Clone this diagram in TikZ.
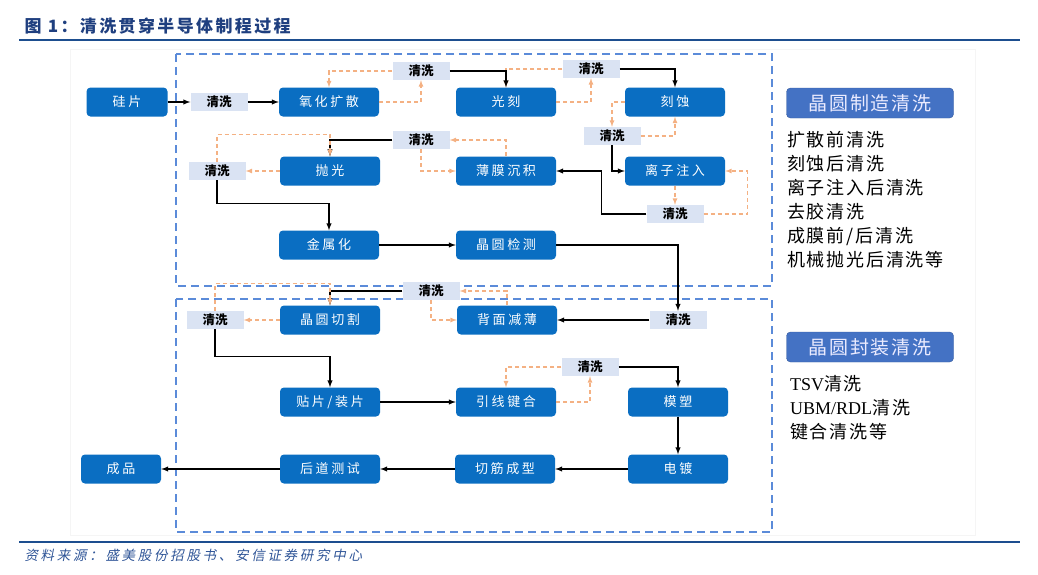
\documentclass[tikz,border=0pt]{standalone}
\usepackage{fontspec}
\setmainfont{Noto Sans CJK SC}
\newfontfamily\latinserif{Liberation Serif}
\newfontfamily\srcfont[FakeSlant=0.2,LetterSpace=20]{Noto Sans CJK SC}
\newfontfamily\boxfont[LetterSpace=20]{Noto Sans CJK SC}
\newfontfamily\titlefont[LetterSpace=14]{Noto Sans CJK SC}
\newfontfamily\notefont[LetterSpace=10]{Noto Sans CJK SC}

\definecolor{procblue}{HTML}{0A6EC2}
\definecolor{washbg}{HTML}{DAE3F3}
\definecolor{backorange}{HTML}{F4B183}
\definecolor{regionblue}{HTML}{5B8BD9}
\definecolor{titleblue}{HTML}{1F3F7F}
\definecolor{rulerblue}{HTML}{1D4E8F}
\definecolor{panelblue}{HTML}{4472C4}
\definecolor{srcblue}{HTML}{2F5597}

\begin{document}
\begin{tikzpicture}[x=1pt,y=-1pt,
    proc/.style={fill=procblue, text=white, rounded corners=4pt, minimum width=100, minimum height=29, inner sep=0pt, font=\boxfont\fontsize{13}{15}\selectfont},
    wash/.style={fill=washbg, text=black, minimum width=57, minimum height=18, inner sep=0pt, font=\bfseries\fontsize{12.5}{14}\selectfont},
    flow/.style={black, line width=1.4pt, -latex},
    back/.style={backorange, line width=1.2pt, dash pattern=on 4pt off 3pt, -latex},
    region/.style={regionblue, line width=1.8pt, dash pattern=on 8pt off 5pt},
    panel/.style={fill=panelblue, draw=panelblue!80!black, text=white!92!blue, rounded corners=4pt, minimum width=167, minimum height=30, inner sep=0pt, font=\notefont\fontsize{19}{21}\selectfont},
    listtext/.style={align=left, inner sep=0pt, font=\notefont\fontsize{18}{24}\selectfont}]
                \useasboundingbox (0,0) rectangle (1038,574);
                % title and rules
                \node[anchor=west, text=titleblue, font=\titlefont\bfseries\fontsize{17}{19}\selectfont] (title) at (21,26) {图 1：清洗贯穿半导体制程过程};
                \draw[rulerblue, line width=2pt] (19,40) -- (1020,40);
                \draw[rulerblue, line width=2pt] (19,542) -- (1020,542);
                \node[anchor=west, text=srcblue, font=\srcfont\fontsize{13.5}{15}\selectfont] (source) at (21,555) {资料来源：盛美股份招股书、安信证券研究中心};
                \draw[black!4] (70,49) rectangle (975,535);
                % the two stages
                \draw[region] (176,54) rectangle (772,286);
                \draw[region] (176,299) rectangle (772,532);
                % wafer fabrication
                \node[proc, minimum width=81] (wafer) at (127,102) {硅片};
                \node[wash] (w1) at (219,102) {清洗};
                \node[proc] (oxid) at (329,102) {氧化扩散};
                \node[wash] (w2) at (421,71) {清洗};
                \node[proc] (litho) at (506,102) {光刻};
                \node[wash] (w3) at (591,69) {清洗};
                \node[proc] (etch) at (675,102) {刻蚀};
                \node[wash] (w4) at (612,136) {清洗};
                \node[proc] (ion) at (675,171) {离子注入};
                \node[wash] (w5) at (675,214) {清洗};
                \node[proc] (depo) at (506,171) {薄膜沉积};
                \node[wash] (w6) at (421,140) {清洗};
                \node[proc] (polish) at (330,171) {抛光};
                \node[wash] (w7) at (217,171) {清洗};
                \node[proc] (metal) at (329,245) {金属化};
                \node[proc] (insp) at (506,245) {晶圆检测};
                % packaging
                \node[wash] (w10) at (678,320) {清洗};
                \node[proc] (thin) at (507,320) {背面减薄};
                \node[wash] (w8) at (431,291) {清洗};
                \node[proc] (dicing) at (330,320) {晶圆切割};
                \node[wash] (w9) at (215,320) {清洗};
                \node[proc] (attach) at (330,402) {贴片/装片};
                \node[proc] (bond) at (506,402) {引线键合};
                \node[wash] (w11) at (590,367) {清洗};
                \node[proc] (mold) at (678,402) {模塑};
                \node[proc] (plate) at (678,469) {电镀};
                \node[proc] (trim) at (505,469) {切筋成型};
                \node[proc] (test) at (330,469) {后道测试};
                \node[proc, minimum width=80] (final) at (121,469) {成品};
                % cleaning loops
                \draw[back] (oxid) -| (w2);
                \draw[back] (w2) -| (oxid);
                \draw[back] (litho) -| (w3);
                \draw[back] (w3) -| (litho);
                \draw[back] (etch) -| (w4);
                \draw[back] (w4) -| (etch);
                \draw[back] (ion) -- (w5);
                \draw[back] (w5.east) -| ([xshift=22pt]ion.east) -- (ion.east);
                \draw[back] (depo) |- (w6);
                \draw[back] (w6) |- (depo);
                \draw[back] (polish) -- (w7);
                \draw[back] (thin) |- (w8);
                \draw[back] (w8) |- (thin);
                \draw[back] (dicing) -- (w9);
                \draw[back] (bond) -| (w11);
                \draw[back] (w11) -| (bond);
                % main flow
                \draw[flow] (wafer) -- (w1);
                \draw[flow] (w1) -- (oxid);
                \draw[flow] (w2) -| (litho);
                \draw[flow] (w3) -| (etch);
                \draw[flow] (w4) |- (ion);
                \draw[flow] (w5.west) -| ([xshift=45pt]depo.east) -- (depo.east);
                \draw[flow] (w6) -| (polish);
                \draw[flow] (w7.south) |- ([yshift=27pt]metal.north) -- (metal.north);
                \draw[flow] (metal) -- (insp);
                \draw[flow] (insp) -| (w10);
                \draw[flow] (w10) -- (thin);
                \draw[flow] (w8) -| (dicing);
                \draw[flow] (w9.south) |- ([yshift=31pt]attach.north) -- (attach.north);
                \draw[flow] (attach) -- (bond);
                \draw[flow] (w11) -| (mold);
                \draw[flow] (mold) -- (plate);
                \draw[flow] (plate) -- (trim);
                \draw[flow] (trim) -- (test);
                \draw[flow] (test) -- (final);
                \draw[back] (w7.north) |- ([yshift=22pt]polish.north) -- (polish.north);
                \draw[back] (w9.north) |- ([yshift=22pt]dicing.north) -- (dicing.north);
                % side notes
                \node[panel] (fabhead) at (870,103) {晶圆制造清洗};
                \node[listtext, anchor=north west] (fablist) at (787,131) {扩散前清洗\\刻蚀后清洗\\离子注入后清洗\\去胶清洗\\成膜前/后清洗\\机械抛光后清洗等};
                \node[panel] (packhead) at (870,347) {晶圆封装清洗};
                \node[listtext, anchor=north west] (packlist) at (790,375) {{\latinserif TSV}清洗\\{\latinserif UBM/RDL}清洗\\键合清洗等};
            \end{tikzpicture}
\end{document}
